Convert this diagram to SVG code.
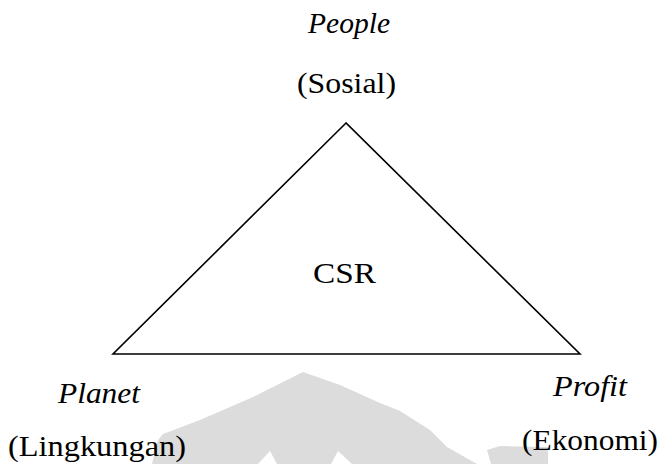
<svg xmlns="http://www.w3.org/2000/svg" width="661" height="464" viewBox="0 0 661 464">
  <style>
    .lbl { font-family: 'Liberation Serif', 'Times New Roman', Times, serif; font-size: 30px; fill: #000; }
    .it { font-style: italic; }
    .wm { fill: #dcdcdc; stroke: none; }
    .tri { fill: #fff; stroke: #000; stroke-width: 1.6; stroke-linejoin: miter; }
  </style>
  <rect x="0" y="0" width="661" height="464" fill="#fff"/>
  <g id="watermark">
    <polygon class="wm" points="152,464 158,440 163,434 200,420 253,397 303,372 340,385 380,403 400,411 430,430 447,447 477,464"/>
    <polygon fill="#fff" points="258,464 270,451 277,464"/>
    <polygon fill="#fff" points="331,464 338,451 352,464"/>
    <polygon class="wm" points="487,450 500,446 548,447 548,464 491,464"/>
  </g>
  <g id="csr">
    <polygon class="tri" points="346,123 113,354 580,354"/>
    <text class="lbl" x="313" y="283" textLength="63" lengthAdjust="spacingAndGlyphs">CSR</text>
  </g>
  <g id="people">
    <text class="lbl it" x="308" y="33" textLength="82" lengthAdjust="spacingAndGlyphs">People</text>
    <text class="lbl" x="297" y="93" textLength="99" lengthAdjust="spacingAndGlyphs">(Sosial)</text>
  </g>
  <g id="planet">
    <text class="lbl it" x="58" y="403" textLength="82" lengthAdjust="spacingAndGlyphs">Planet</text>
    <text class="lbl" x="8" y="456" textLength="178" lengthAdjust="spacingAndGlyphs">(Lingkungan)</text>
  </g>
  <g id="profit">
    <text class="lbl it" x="553" y="396" textLength="74" lengthAdjust="spacingAndGlyphs">Profit</text>
    <text class="lbl" x="522" y="450" textLength="136" lengthAdjust="spacingAndGlyphs">(Ekonomi)</text>
  </g>
  <g id="connectors"></g>
</svg>
